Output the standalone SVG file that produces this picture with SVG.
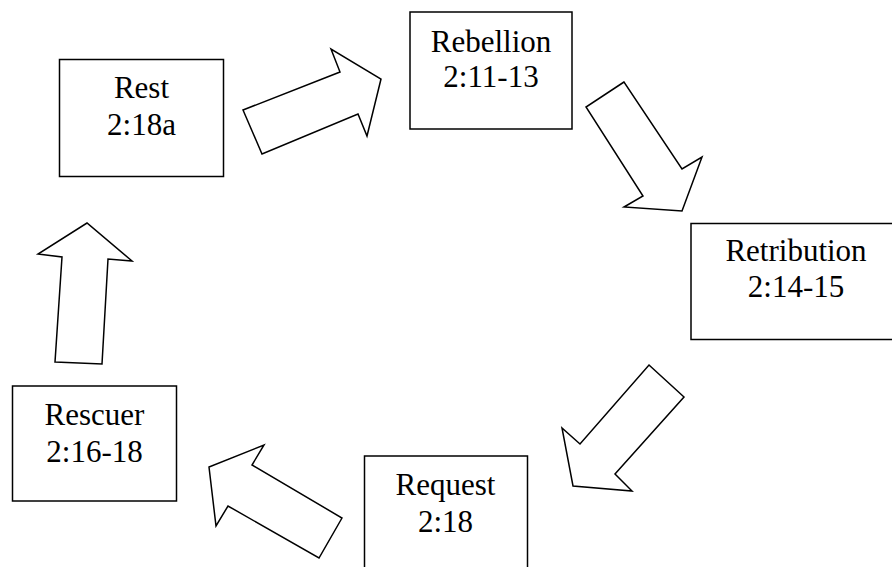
<svg xmlns="http://www.w3.org/2000/svg" width="892" height="567" viewBox="0 0 892 567">
<style>
.box{fill:#fff;stroke:#000;stroke-width:1.5}
.arr{fill:#fff;stroke:#000;stroke-width:1.5;stroke-linejoin:miter}
text{font-family:"Liberation Serif","Times New Roman",serif;font-size:31px;fill:#000;text-anchor:middle}
</style>
<rect width="892" height="567" fill="#fff"/>
<g id="connectors">
<polygon class="arr" points="243,110 340,72 331,49 381,79 367,136 358,114 262,154"/>
<polygon class="arr" points="624,82 586,107 643,196 624,207 682,211 702,157 682,169"/>
<polygon class="arr" points="649,365 684,397 615,474 632,491 573,486 562,428 580,444"/>
<polygon class="arr" points="342,518 319,558 228,506 216,526 209,467 264,445 252,465"/>
<polygon class="arr" points="55,362 102,364 108,259 132,261 87,223 38,254 62,257"/>
</g>
<g id="rest">
<rect class="box" x="59.5" y="59.5" width="164" height="117"/>
<text x="141.5" y="98">Rest</text>
<text x="141.5" y="135">2:18a</text>
</g>
<g id="rebellion">
<rect class="box" x="410" y="12" width="162" height="117"/>
<text x="491" y="51.5">Rebellion</text>
<text x="491" y="86.5">2:11-13</text>
</g>
<g id="retribution">
<rect class="box" x="691" y="223.5" width="215" height="116"/>
<text x="796" y="261">Retribution</text>
<text x="796" y="297">2:14-15</text>
</g>
<g id="request">
<rect class="box" x="364.5" y="456" width="163" height="120"/>
<text x="445.5" y="495">Request</text>
<text x="445.5" y="531.5">2:18</text>
</g>
<g id="rescuer">
<rect class="box" x="12.5" y="386" width="164" height="115"/>
<text x="94.5" y="425">Rescuer</text>
<text x="94.5" y="461.5">2:16-18</text>
</g>
</svg>
